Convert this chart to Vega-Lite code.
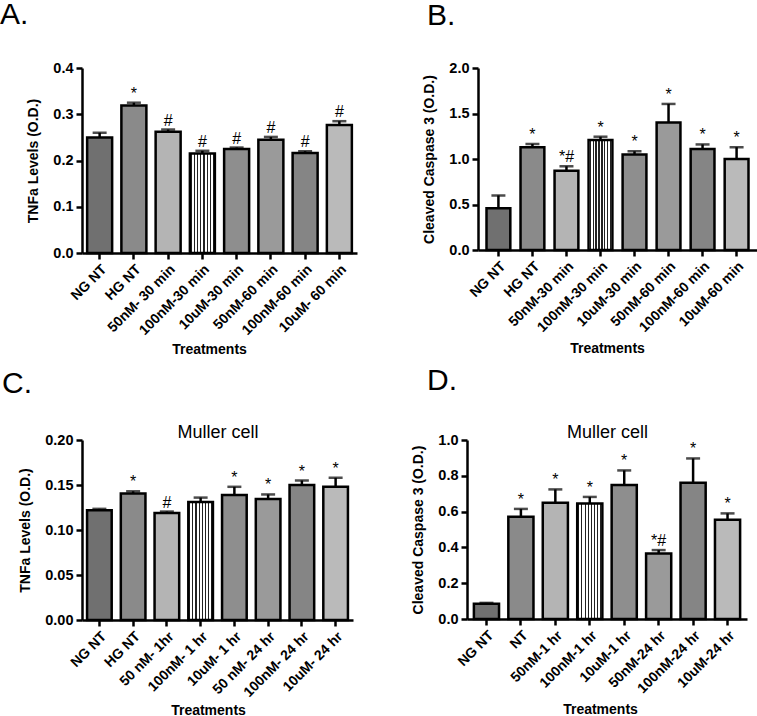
{
  "$schema": "https://vega.github.io/schema/vega-lite/v6.json",
  "padding": 0,
  "background": "white",
  "config": {
    "view": {"stroke": null},
    "font": "Liberation Sans",
    "axis": {
      "grid": false,
      "domainColor": "black",
      "domainWidth": 2.5,
      "tickColor": "black",
      "tickWidth": 2.5,
      "tickSize": 6,
      "labelFont": "Liberation Sans",
      "labelFontWeight": "bold",
      "labelFontSize": 14.5,
      "labelColor": "black",
      "labelOverlap": false,
      "titleFont": "Liberation Sans",
      "titleFontWeight": "bold",
      "titleFontSize": 14,
      "titleColor": "black"
    },
    "axisX": {"labelAngle": -45, "labelFontSize": 14, "labelPadding": 3},
    "axisY": {"labelPadding": 3, "titlePadding": 12},
    "title": {"font": "Liberation Sans", "color": "black", "fontWeight": "normal", "fontSize": 30, "anchor": "start", "frame": "group"}
  },
  "bounds": "flush",
  "spacing": 372,
  "vconcat": [
    {
      "bounds": "flush",
      "spacing": 121,
      "hconcat": [
        {
          "title": {"text": "A.", "dx": -82, "offset": 30},
          "width": 275, "height": 185,
          "data": {"values": [
            {"t": "NG NT", "v": 0.250, "u": 0.260, "s": "", "p": 1},
            {"t": "HG NT", "v": 0.319, "u": 0.325, "s": "*", "p": 2},
            {"t": "50nM- 30 min", "v": 0.262, "u": 0.267, "s": "#", "p": 3},
            {"t": "100nM-30 min", "v": 0.215, "u": 0.221, "s": "#", "p": 4},
            {"t": "10uM-30 min", "v": 0.225, "u": 0.228, "s": "#", "p": 5},
            {"t": "50nM-60 min", "v": 0.245, "u": 0.251, "s": "#", "p": 6},
            {"t": "100nM-60 min", "v": 0.216, "u": 0.220, "s": "#", "p": 7},
            {"t": "10uM- 60 min", "v": 0.277, "u": 0.285, "s": "#", "p": 8}
          ]},
          "encoding": {"x": {"field": "t", "type": "nominal", "sort": null, "title": "Treatments", "axis": {"titleX": 127, "titlePadding": 5}, "scale": {"paddingInner": 0.27, "paddingOuter": 0.15}}},
          "layer": [
            {"mark": {"type": "bar", "stroke": "black", "strokeWidth": 2.5},
             "encoding": {
               "y": {"field": "v", "type": "quantitative", "title": "TNFa Levels (O.D.)", "scale": {"domain": [0, 0.4]}, "axis": {"values": [0, 0.1, 0.2, 0.3, 0.4], "format": ".1f", "tickCount": 10}},
               "fill": {"field": "p", "type": "nominal", "legend": null,
                 "condition": [{"test": "datum.p == 4", "value": {"gradient": "linear", "x1": 0, "y1": 0, "x2": 1, "y2": 0, "stops": [
                   {"offset": 0.04, "color": "white"}, {"offset": 0.04, "color": "#222"}, {"offset": 0.085, "color": "#222"}, {"offset": 0.085, "color": "white"},
                   {"offset": 0.165, "color": "white"}, {"offset": 0.165, "color": "#222"}, {"offset": 0.21, "color": "#222"}, {"offset": 0.21, "color": "white"},
                   {"offset": 0.29, "color": "white"}, {"offset": 0.29, "color": "#222"}, {"offset": 0.335, "color": "#222"}, {"offset": 0.335, "color": "white"},
                   {"offset": 0.415, "color": "white"}, {"offset": 0.415, "color": "#222"}, {"offset": 0.46, "color": "#222"}, {"offset": 0.46, "color": "white"},
                   {"offset": 0.54, "color": "white"}, {"offset": 0.54, "color": "#222"}, {"offset": 0.585, "color": "#222"}, {"offset": 0.585, "color": "white"},
                   {"offset": 0.665, "color": "white"}, {"offset": 0.665, "color": "#222"}, {"offset": 0.71, "color": "#222"}, {"offset": 0.71, "color": "white"},
                   {"offset": 0.79, "color": "white"}, {"offset": 0.79, "color": "#222"}, {"offset": 0.835, "color": "#222"}, {"offset": 0.835, "color": "white"},
                   {"offset": 0.915, "color": "white"}, {"offset": 0.915, "color": "#222"}, {"offset": 0.96, "color": "#222"}, {"offset": 0.96, "color": "white"}
                 ]}}],
                 "scale": {"domain": [1, 2, 3, 4, 5, 6, 7, 8], "range": ["#707070", "#8a8a8a", "#b4b4b4", "#b0b0b0", "#8e8e8e", "#9a9a9a", "#858585", "#bababa"]}}
             }},
            {"mark": {"type": "rule", "strokeWidth": 2.5, "color": "black"},
             "encoding": {"y": {"field": "v", "type": "quantitative", "title": "TNFa Levels (O.D.)"}, "y2": {"field": "u"}}},
            {"mark": {"type": "tick", "thickness": 2.5, "size": 14, "color": "black"},
             "encoding": {"y": {"field": "u", "type": "quantitative", "title": "TNFa Levels (O.D.)"}}},
            {"mark": {"type": "text", "baseline": "bottom", "dy": -1, "fontSize": 16, "color": "black"},
             "encoding": {"y": {"field": "u", "type": "quantitative", "title": "TNFa Levels (O.D.)"}, "text": {"field": "s"}}}
          ]
        },
        {
          "title": {"text": "B.", "dx": -51, "offset": 29},
          "width": 279, "height": 182,
          "data": {"values": [
            {"t": "NG NT", "v": 0.46, "u": 0.60, "s": "", "p": 1},
            {"t": "HG NT", "v": 1.13, "u": 1.165, "s": "*", "p": 2},
            {"t": "50nM-30 min", "v": 0.87, "u": 0.92, "s": "*#", "p": 3},
            {"t": "100nM-30 min", "v": 1.21, "u": 1.245, "s": "*", "p": 4},
            {"t": "10uM-30 min", "v": 1.05, "u": 1.085, "s": "*", "p": 5},
            {"t": "50nM-60 min", "v": 1.40, "u": 1.605, "s": "*", "p": 6},
            {"t": "100nM-60 min", "v": 1.11, "u": 1.16, "s": "*", "p": 7},
            {"t": "10uM-60 min", "v": 1.00, "u": 1.13, "s": "*", "p": 8}
          ]},
          "encoding": {"x": {"field": "t", "type": "nominal", "sort": null, "title": "Treatments", "axis": {"titleX": 129, "titlePadding": 7}, "scale": {"paddingInner": 0.3, "paddingOuter": 0.25}}},
          "layer": [
            {"mark": {"type": "bar", "stroke": "black", "strokeWidth": 2.5},
             "encoding": {
               "y": {"field": "v", "type": "quantitative", "title": "Cleaved Caspase 3 (O.D.)", "scale": {"domain": [0, 2]}, "axis": {"values": [0, 0.5, 1, 1.5, 2], "format": ".1f", "tickCount": 10}},
               "fill": {"field": "p", "type": "nominal", "legend": null,
                 "condition": [{"test": "datum.p == 4", "value": {"gradient": "linear", "x1": 0, "y1": 0, "x2": 1, "y2": 0, "stops": [
                   {"offset": 0.04, "color": "white"}, {"offset": 0.04, "color": "#222"}, {"offset": 0.085, "color": "#222"}, {"offset": 0.085, "color": "white"},
                   {"offset": 0.165, "color": "white"}, {"offset": 0.165, "color": "#222"}, {"offset": 0.21, "color": "#222"}, {"offset": 0.21, "color": "white"},
                   {"offset": 0.29, "color": "white"}, {"offset": 0.29, "color": "#222"}, {"offset": 0.335, "color": "#222"}, {"offset": 0.335, "color": "white"},
                   {"offset": 0.415, "color": "white"}, {"offset": 0.415, "color": "#222"}, {"offset": 0.46, "color": "#222"}, {"offset": 0.46, "color": "white"},
                   {"offset": 0.54, "color": "white"}, {"offset": 0.54, "color": "#222"}, {"offset": 0.585, "color": "#222"}, {"offset": 0.585, "color": "white"},
                   {"offset": 0.665, "color": "white"}, {"offset": 0.665, "color": "#222"}, {"offset": 0.71, "color": "#222"}, {"offset": 0.71, "color": "white"},
                   {"offset": 0.79, "color": "white"}, {"offset": 0.79, "color": "#222"}, {"offset": 0.835, "color": "#222"}, {"offset": 0.835, "color": "white"},
                   {"offset": 0.915, "color": "white"}, {"offset": 0.915, "color": "#222"}, {"offset": 0.96, "color": "#222"}, {"offset": 0.96, "color": "white"}
                 ]}}],
                 "scale": {"domain": [1, 2, 3, 4, 5, 6, 7, 8], "range": ["#707070", "#8a8a8a", "#b4b4b4", "#b0b0b0", "#8e8e8e", "#9a9a9a", "#858585", "#bababa"]}}
             }},
            {"mark": {"type": "rule", "strokeWidth": 2.5, "color": "black"},
             "encoding": {"y": {"field": "v", "type": "quantitative", "title": "Cleaved Caspase 3 (O.D.)"}, "y2": {"field": "u"}}},
            {"mark": {"type": "tick", "thickness": 2.5, "size": 14, "color": "black"},
             "encoding": {"y": {"field": "u", "type": "quantitative", "title": "Cleaved Caspase 3 (O.D.)"}}},
            {"mark": {"type": "text", "baseline": "bottom", "dy": -1, "fontSize": 16, "color": "black"},
             "encoding": {"y": {"field": "u", "type": "quantitative", "title": "Cleaved Caspase 3 (O.D.)"}, "text": {"field": "s"}}}
          ]
        }
      ]
    },
    {
      "bounds": "flush",
      "spacing": 114,
      "hconcat": [
        {
          "title": {"text": "C.", "dx": -80, "dy": -5, "offset": 19},
          "width": 271, "height": 180,
          "data": {"values": [
            {"t": "NG NT", "v": 0.122, "u": 0.1235, "s": "", "p": 1},
            {"t": "HG NT", "v": 0.1405, "u": 0.143, "s": "*", "p": 2},
            {"t": "50 nM- 1hr", "v": 0.119, "u": 0.1205, "s": "#", "p": 3},
            {"t": "100nM- 1 hr", "v": 0.131, "u": 0.136, "s": "", "p": 4},
            {"t": "10uM- 1 hr", "v": 0.139, "u": 0.148, "s": "*", "p": 5},
            {"t": "50 nM- 24 hr", "v": 0.1345, "u": 0.1395, "s": "*", "p": 6},
            {"t": "100nM- 24 hr", "v": 0.150, "u": 0.155, "s": "*", "p": 7},
            {"t": "10uM- 24 hr", "v": 0.148, "u": 0.158, "s": "*", "p": 8}
          ]},
          "resolve": {"axis": {"x": "independent"}},
          "layer": [
            {"mark": {"type": "bar", "stroke": "black", "strokeWidth": 2.5},
             "encoding": {
               "x": {"field": "t", "type": "nominal", "sort": null, "title": "Treatments", "axis": {"titleX": 126, "titlePadding": 4}, "scale": {"paddingInner": 0.27, "paddingOuter": 0.15}},
               "y": {"field": "v", "type": "quantitative", "title": "TNFa Levels (O.D.)", "scale": {"domain": [0, 0.2]}, "axis": {"values": [0, 0.05, 0.1, 0.15, 0.2], "format": ".2f", "tickCount": 10}},
               "fill": {"field": "p", "type": "nominal", "legend": null,
                 "condition": [{"test": "datum.p == 4", "value": {"gradient": "linear", "x1": 0, "y1": 0, "x2": 1, "y2": 0, "stops": [
                   {"offset": 0.04, "color": "white"}, {"offset": 0.04, "color": "#222"}, {"offset": 0.085, "color": "#222"}, {"offset": 0.085, "color": "white"},
                   {"offset": 0.165, "color": "white"}, {"offset": 0.165, "color": "#222"}, {"offset": 0.21, "color": "#222"}, {"offset": 0.21, "color": "white"},
                   {"offset": 0.29, "color": "white"}, {"offset": 0.29, "color": "#222"}, {"offset": 0.335, "color": "#222"}, {"offset": 0.335, "color": "white"},
                   {"offset": 0.415, "color": "white"}, {"offset": 0.415, "color": "#222"}, {"offset": 0.46, "color": "#222"}, {"offset": 0.46, "color": "white"},
                   {"offset": 0.54, "color": "white"}, {"offset": 0.54, "color": "#222"}, {"offset": 0.585, "color": "#222"}, {"offset": 0.585, "color": "white"},
                   {"offset": 0.665, "color": "white"}, {"offset": 0.665, "color": "#222"}, {"offset": 0.71, "color": "#222"}, {"offset": 0.71, "color": "white"},
                   {"offset": 0.79, "color": "white"}, {"offset": 0.79, "color": "#222"}, {"offset": 0.835, "color": "#222"}, {"offset": 0.835, "color": "white"},
                   {"offset": 0.915, "color": "white"}, {"offset": 0.915, "color": "#222"}, {"offset": 0.96, "color": "#222"}, {"offset": 0.96, "color": "white"}
                 ]}}],
                 "scale": {"domain": [1, 2, 3, 4, 5, 6, 7, 8], "range": ["#707070", "#8a8a8a", "#b4b4b4", "#b0b0b0", "#8e8e8e", "#9a9a9a", "#858585", "#bababa"]}}
             }},
            {"mark": {"type": "rule", "strokeWidth": 2.5, "color": "black"},
             "encoding": {
               "x": {"field": "t", "type": "nominal", "sort": null, "title": "Muller cell", "axis": {"orient": "top", "labels": false, "ticks": false, "domain": false, "titleFontSize": 18, "titleFontWeight": "normal", "titlePadding": -1, "minExtent": 0}},
               "y": {"field": "v", "type": "quantitative", "title": "TNFa Levels (O.D.)"}, "y2": {"field": "u"}}},
            {"mark": {"type": "tick", "thickness": 2.5, "size": 14, "color": "black"},
             "encoding": {"x": {"field": "t", "type": "nominal", "sort": null, "axis": null}, "y": {"field": "u", "type": "quantitative", "title": "TNFa Levels (O.D.)"}}},
            {"mark": {"type": "text", "baseline": "bottom", "dy": -1, "fontSize": 16, "color": "black"},
             "encoding": {"x": {"field": "t", "type": "nominal", "sort": null, "axis": null}, "y": {"field": "u", "type": "quantitative", "title": "TNFa Levels (O.D.)"}, "text": {"field": "s"}}}
          ]
        },
        {
          "title": {"text": "D.", "dx": -40, "dy": -7, "offset": 20},
          "width": 280, "height": 179,
          "data": {"values": [
            {"t": "NG NT", "v": 0.085, "u": 0.09, "s": "", "p": 1},
            {"t": "NT", "v": 0.571, "u": 0.615, "s": "*", "p": 2},
            {"t": "50nM-1 hr", "v": 0.65, "u": 0.724, "s": "*", "p": 3},
            {"t": "100nM-1 hr", "v": 0.645, "u": 0.682, "s": "*", "p": 4},
            {"t": "10uM-1 hr", "v": 0.748, "u": 0.83, "s": "*", "p": 5},
            {"t": "50nM-24 hr", "v": 0.366, "u": 0.385, "s": "*#", "p": 6},
            {"t": "100nM-24 hr", "v": 0.761, "u": 0.897, "s": "*", "p": 7},
            {"t": "10uM-24 hr", "v": 0.554, "u": 0.59, "s": "*", "p": 8}
          ]},
          "resolve": {"axis": {"x": "independent"}},
          "layer": [
            {"mark": {"type": "bar", "stroke": "black", "strokeWidth": 2.5},
             "encoding": {
               "x": {"field": "t", "type": "nominal", "sort": null, "title": "Treatments", "axis": {"titleX": 133, "titlePadding": 7}, "scale": {"paddingInner": 0.27, "paddingOuter": 0.2}},
               "y": {"field": "v", "type": "quantitative", "title": "Cleaved Caspase 3 (O.D.)", "scale": {"domain": [0, 1]}, "axis": {"values": [0, 0.2, 0.4, 0.6, 0.8, 1], "format": ".1f", "tickCount": 10}},
               "fill": {"field": "p", "type": "nominal", "legend": null,
                 "condition": [{"test": "datum.p == 4", "value": {"gradient": "linear", "x1": 0, "y1": 0, "x2": 1, "y2": 0, "stops": [
                   {"offset": 0.04, "color": "white"}, {"offset": 0.04, "color": "#222"}, {"offset": 0.085, "color": "#222"}, {"offset": 0.085, "color": "white"},
                   {"offset": 0.165, "color": "white"}, {"offset": 0.165, "color": "#222"}, {"offset": 0.21, "color": "#222"}, {"offset": 0.21, "color": "white"},
                   {"offset": 0.29, "color": "white"}, {"offset": 0.29, "color": "#222"}, {"offset": 0.335, "color": "#222"}, {"offset": 0.335, "color": "white"},
                   {"offset": 0.415, "color": "white"}, {"offset": 0.415, "color": "#222"}, {"offset": 0.46, "color": "#222"}, {"offset": 0.46, "color": "white"},
                   {"offset": 0.54, "color": "white"}, {"offset": 0.54, "color": "#222"}, {"offset": 0.585, "color": "#222"}, {"offset": 0.585, "color": "white"},
                   {"offset": 0.665, "color": "white"}, {"offset": 0.665, "color": "#222"}, {"offset": 0.71, "color": "#222"}, {"offset": 0.71, "color": "white"},
                   {"offset": 0.79, "color": "white"}, {"offset": 0.79, "color": "#222"}, {"offset": 0.835, "color": "#222"}, {"offset": 0.835, "color": "white"},
                   {"offset": 0.915, "color": "white"}, {"offset": 0.915, "color": "#222"}, {"offset": 0.96, "color": "#222"}, {"offset": 0.96, "color": "white"}
                 ]}}],
                 "scale": {"domain": [1, 2, 3, 4, 5, 6, 7, 8], "range": ["#707070", "#8a8a8a", "#b4b4b4", "#b0b0b0", "#8e8e8e", "#9a9a9a", "#858585", "#bababa"]}}
             }},
            {"mark": {"type": "rule", "strokeWidth": 2.5, "color": "black"},
             "encoding": {
               "x": {"field": "t", "type": "nominal", "sort": null, "title": "Muller cell", "axis": {"orient": "top", "labels": false, "ticks": false, "domain": false, "titleFontSize": 18, "titleFontWeight": "normal", "titlePadding": -1, "minExtent": 0}},
               "y": {"field": "v", "type": "quantitative", "title": "Cleaved Caspase 3 (O.D.)"}, "y2": {"field": "u"}}},
            {"mark": {"type": "tick", "thickness": 2.5, "size": 14, "color": "black"},
             "encoding": {"x": {"field": "t", "type": "nominal", "sort": null, "axis": null}, "y": {"field": "u", "type": "quantitative", "title": "Cleaved Caspase 3 (O.D.)"}}},
            {"mark": {"type": "text", "baseline": "bottom", "dy": -1, "fontSize": 16, "color": "black"},
             "encoding": {"x": {"field": "t", "type": "nominal", "sort": null, "axis": null}, "y": {"field": "u", "type": "quantitative", "title": "Cleaved Caspase 3 (O.D.)"}, "text": {"field": "s"}}}
          ]
        }
      ]
    }
  ]
}
